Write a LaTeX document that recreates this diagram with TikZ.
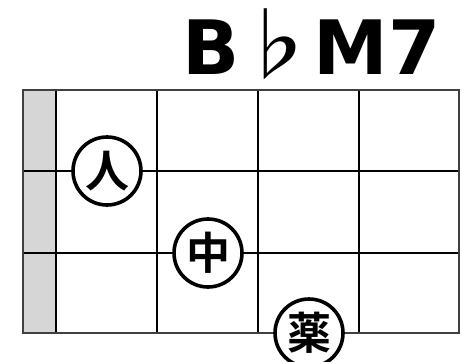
\documentclass[tikz,border=0pt]{standalone}
\usepackage{fontspec}
\newfontfamily\cjkbold{Noto Sans CJK JP Bold}
\newfontfamily\cjkreg{Noto Sans CJK JP Medium}
\newfontfamily\titlefont{DejaVu Sans Bold}
\definecolor{strip}{HTML}{D6D6D6}
\begin{document}
\begin{tikzpicture}[x=1pt,y=-1pt,
  gridline/.style={line width=2.6pt,black},
  border/.style={line width=1.3pt,black!75},
  finger/.style={circle,draw,line width=3.6pt,fill=white,minimum size=68pt,inner sep=0pt,font=\cjkbold\fontsize{44}{44}\selectfont}]
\useasboundingbox (0,0) rectangle (462,361);
\fill[strip] (23,90) rectangle (56,333);
\foreach \x in {56,157,258,359} \draw[gridline] (\x,90) -- (\x,333);
\foreach \y in {171,253} \draw[gridline] (23,\y) -- (459,\y);
\draw[border] (23,90) rectangle (459,333);
\node[anchor=base east,inner sep=0pt,font=\titlefont\fontsize{75}{75}\selectfont] (title) at (441,74) {B{\cjkreg\fontsize{80}{80}\selectfont\kern-3pt♭\kern-3pt}M7};
\node[finger] (f1) at (107,171) {人};
\node[finger] (f2) at (208,253) {中};
\node[finger] (f3) at (309,333) {薬};
\end{tikzpicture}
\end{document}
